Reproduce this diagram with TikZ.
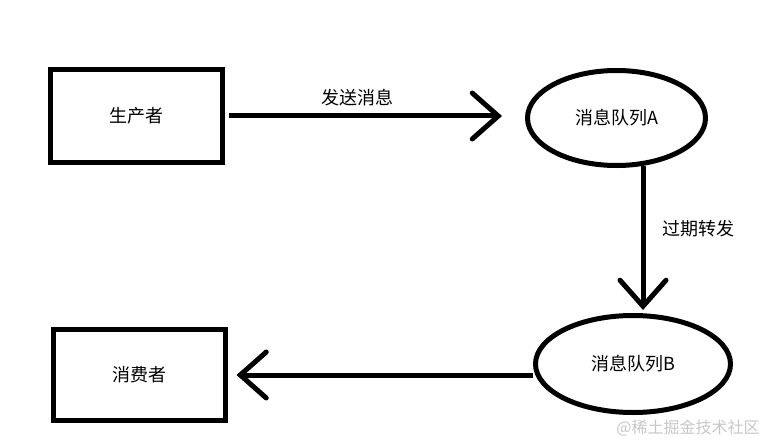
\documentclass[tikz,border=0pt]{standalone}
\usepackage{fontspec}
\setmainfont{Noto Sans CJK SC}
\usetikzlibrary{shapes.geometric,arrows.meta}

\tikzset{
  box/.style={draw,line width=5pt,minimum width=172pt,minimum height=92pt,inner sep=0pt},
  queue/.style={draw,ellipse,line width=5pt,inner sep=0pt},
  flow/.style={line width=5pt,-{Straight Barb[length=26pt,width=46pt,line cap=round]}},
  txt/.style={font=\fontsize{18}{20}\selectfont}
}

\begin{document}
\begin{tikzpicture}[x=1pt,y=1pt]
\useasboundingbox (0,0) rectangle (768,440);
\node[box,txt] (prod) at (136.5,324) {生产者};
\node[box,txt,minimum height=91pt] (cons) at (139,65) {消费者};
\node[queue,txt,minimum width=178pt,minimum height=95pt] (qa) at (616.5,322) {消息队列A};
\node[queue,txt,minimum width=195pt,minimum height=97pt] (qb) at (633,76) {消息队列B};

\node[txt] (send) at (357,342) {发送消息};
\node[txt] (expire) at (698,211) {过期转发};
\node[font=\fontsize{16}{18}\selectfont,text=black!22] (mark) at (688,12) {@稀土掘金技术社区};

\draw[flow,shorten <=4pt,shorten >=23pt] (prod.east) -- (prod.east -| qa.west);
\draw[flow,shorten >=3pt] (qa.-61.5) -- (qa.-61.5 |- qb.north);
\draw[flow,shorten >=9pt] (qb.west |- cons) -- (cons.east);
\end{tikzpicture}
\end{document}
